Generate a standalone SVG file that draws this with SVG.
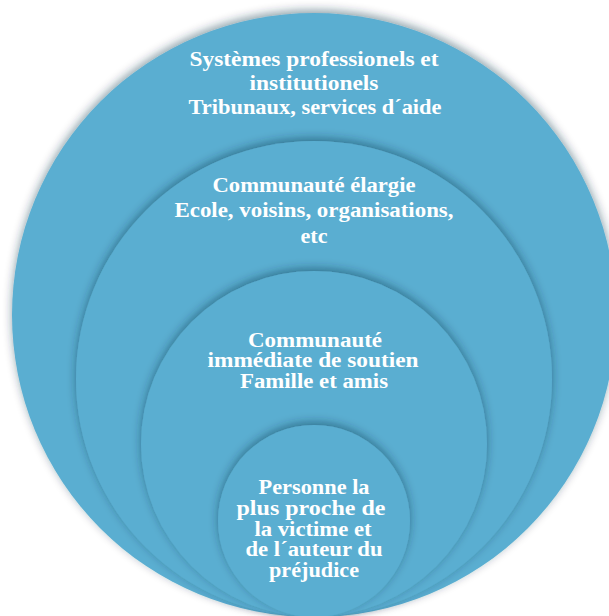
<svg xmlns="http://www.w3.org/2000/svg" width="609" height="616" viewBox="0 0 609 616">
  <defs>
    <filter id="sh" x="-15%" y="-15%" width="130%" height="130%">
      <feDropShadow dx="0" dy="-3" stdDeviation="5" flood-color="#0b2f40" flood-opacity="0.45"/>
    </filter>
  </defs>
  <style>
    .ring { fill: #5AAED1; filter: url(#sh); }
    .lbl { font-family: "Liberation Serif", "Times New Roman", serif; font-weight: bold; font-size: 22px; fill: #FFFFFF; text-anchor: middle; }
    .sm { font-size: 20px; }
  </style>
  <rect width="609" height="616" fill="#FFFFFF"/>
  <g id="systemes">
    <circle class="ring" cx="314" cy="315" r="302"/>
    <text class="lbl" x="314" y="66" textLength="249" lengthAdjust="spacingAndGlyphs">Systèmes professionels et</text>
    <text class="lbl" x="314" y="90" textLength="129" lengthAdjust="spacingAndGlyphs">institutionels</text>
    <text class="lbl" x="315" y="114" textLength="253" lengthAdjust="spacingAndGlyphs">Tribunaux, services d´aide</text>
  </g>
  <g id="communaute-elargie">
    <circle class="ring" cx="314" cy="379" r="238"/>
    <text class="lbl" x="314" y="192" textLength="203" lengthAdjust="spacingAndGlyphs">Communauté élargie</text>
    <text class="lbl" x="314" y="217" textLength="279" lengthAdjust="spacingAndGlyphs">Ecole, voisins, organisations,</text>
    <text class="lbl" x="314" y="243" textLength="27" lengthAdjust="spacingAndGlyphs">etc</text>
  </g>
  <g id="communaute-immediate">
    <circle class="ring" cx="314" cy="444" r="173"/>
    <text class="lbl sm" x="315" y="347" textLength="134" lengthAdjust="spacingAndGlyphs">Communauté</text>
    <text class="lbl sm" x="313" y="367" textLength="211" lengthAdjust="spacingAndGlyphs">immédiate de soutien</text>
    <text class="lbl sm" x="314" y="388" textLength="148" lengthAdjust="spacingAndGlyphs">Famille et amis</text>
  </g>
  <g id="personne-proche">
    <circle class="ring" cx="314" cy="521" r="96"/>
    <text class="lbl sm" x="314" y="494" textLength="111" lengthAdjust="spacingAndGlyphs">Personne la</text>
    <text class="lbl sm" x="311" y="515" textLength="149" lengthAdjust="spacingAndGlyphs">plus proche de</text>
    <text class="lbl sm" x="313" y="536" textLength="117" lengthAdjust="spacingAndGlyphs">la victime et</text>
    <text class="lbl sm" x="314" y="556" textLength="137" lengthAdjust="spacingAndGlyphs">de l´auteur du</text>
    <text class="lbl sm" x="314" y="577" textLength="90" lengthAdjust="spacingAndGlyphs">préjudice</text>
  </g>
</svg>
